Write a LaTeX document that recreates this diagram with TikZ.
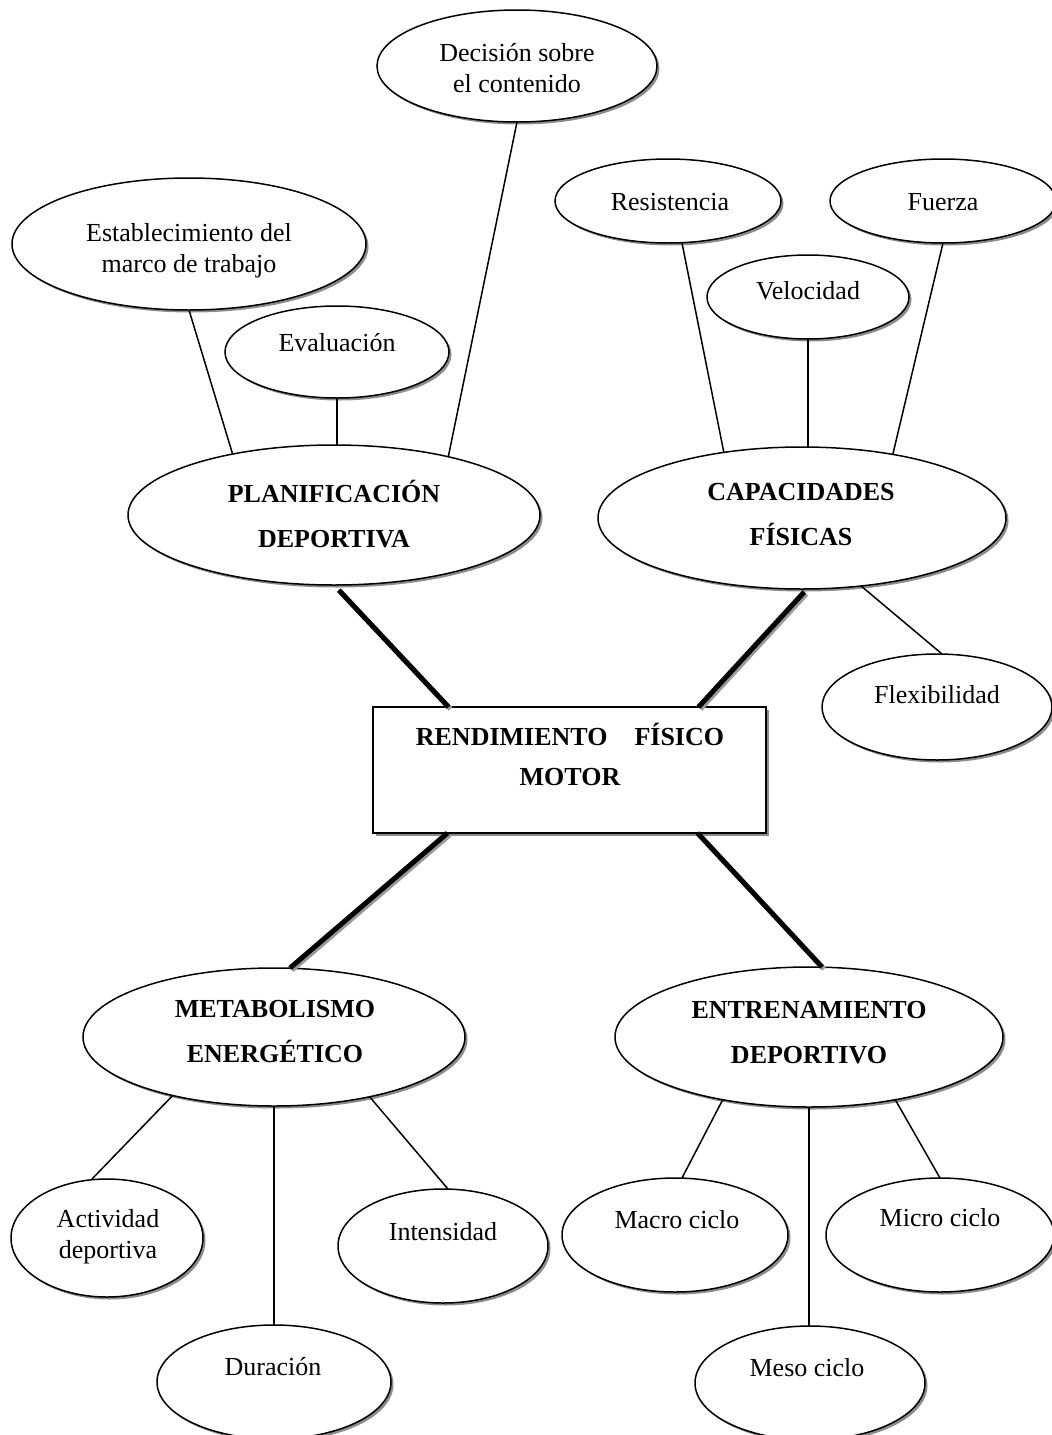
\documentclass[tikz,border=0pt]{standalone}
\usepackage{fontspec}
\setmainfont{Liberation Serif}
\usetikzlibrary{shapes.geometric,shadows,calc}
\tikzset{
  ell/.style={ellipse, draw, line width=1.5pt, fill=white, inner sep=0pt, outer sep=0pt,
    drop shadow={shadow xshift=2.5pt, shadow yshift=-2.5pt, fill=black!45, opacity=1}},
  boxnode/.style={rectangle, draw, line width=2pt, fill=white, inner sep=0pt, outer sep=0pt,
    drop shadow={shadow xshift=2.5pt, shadow yshift=-2.5pt, fill=black!45, opacity=1}},
  txt/.style={font=\fontsize{26}{31}\selectfont, align=center, inner sep=0pt},
  btxt/.style={font=\fontsize{26}{45}\selectfont\bfseries, align=center, inner sep=0pt},
  thinline/.style={line width=1.5pt},
  heavyline/.style={line width=5pt,
    preaction={draw=black!40, line width=5pt, transform canvas={shift={(2pt,-2pt)}}}},
}
\begin{document}
\begin{tikzpicture}[x=1pt,y=-1pt]
\useasboundingbox (0,0) rectangle (1052,1435);
% ellipses
\node[ell, minimum width=280, minimum height=112] (dec) at (517,66) {};
\node[ell, minimum width=354, minimum height=132] (est) at (189,244) {};
\node[ell, minimum width=224, minimum height=92] (eva) at (337,352) {};
\node[ell, minimum width=412, minimum height=140] (plan) at (334,515) {};
\node[ell, minimum width=226, minimum height=84] (res) at (668,201) {};
\node[ell, minimum width=226, minimum height=84] (fue) at (943,201) {};
\node[ell, minimum width=202, minimum height=84] (vel) at (808,297) {};
\node[ell, minimum width=408, minimum height=142] (cap) at (802,518) {};
\node[ell, minimum width=230, minimum height=106] (flex) at (937,707) {};
\node[boxnode, minimum width=393, minimum height=126] (rend) at (569.5,770) {};
\node[ell, minimum width=382, minimum height=138] (met) at (274,1037) {};
\node[ell, minimum width=388, minimum height=140] (ent) at (809,1037) {};
\node[ell, minimum width=192, minimum height=118] (act) at (107,1238) {};
\node[ell, minimum width=210, minimum height=114] (int) at (443,1246) {};
\node[ell, minimum width=234, minimum height=114] (dur) at (274,1382) {};
\node[ell, minimum width=226, minimum height=114] (mac) at (675,1235) {};
\node[ell, minimum width=228, minimum height=114] (mic) at (940,1235) {};
\node[ell, minimum width=230, minimum height=114] (mes) at (810,1383) {};
% texts
\node[txt] (dec-t) at (517,68) {Decisión sobre\\el contenido};
\node[txt] (est-t) at (189,251) {Establecimiento del\\marco de trabajo};
\node[txt] (eva-t) at (337,343) {Evaluación};
\node[txt] (res-t) at (670,202) {Resistencia};
\node[txt] (fue-t) at (943,202) {Fuerza};
\node[txt] (vel-t) at (808,291) {Velocidad};
\node[btxt] (plan-t) at (334,514) {PLANIFICACIÓN\\DEPORTIVA};
\node[btxt] (cap-t) at (801,515) {CAPACIDADES\\FÍSICAS};
\node[txt] (flex-t) at (937,695) {Flexibilidad};
\node[btxt, font=\fontsize{26}{40}\selectfont\bfseries] (rend-t) at (570,754) {RENDIMIENTO\hspace{27pt}FÍSICO\\MOTOR};
\node[btxt] (met-t) at (275,1032) {METABOLISMO\\ENERGÉTICO};
\node[btxt] (ent-t) at (809,1033) {ENTRENAMIENTO\\DEPORTIVO};
\node[txt] (act-t) at (108,1237) {Actividad\\deportiva};
\node[txt] (int-t) at (443,1232) {Intensidad};
\node[txt] (dur-t) at (273,1367) {Duración};
\node[txt] (mac-t) at (677,1220) {Macro ciclo};
\node[txt] (mic-t) at (940,1218) {Micro ciclo};
\node[txt] (mes-t) at (807,1368) {Meso ciclo};
% thin connectors
\draw[thinline] (est.south) -- (plan.149);
\draw[thinline] (eva.south) -- (eva.south |- plan.north);
\draw[thinline] (dec.south) -- (plan.27);
\draw[thinline] ([xshift=14pt]res.south) -- (cap.140);
\draw[thinline] (vel.south) -- (vel.south |- cap.north);
\draw[thinline] (fue.south) -- (cap.35);
\draw[thinline] (cap.-49) -- ([xshift=5pt]flex.north);
\draw[thinline] (met.210.5) -- ([xshift=-15pt]act.north);
\draw[thinline] (met.south) -- (met.south |- dur.north);
\draw[thinline] (met.-32) -- ([xshift=5pt]int.north);
\draw[thinline] (ent.216.4) -- ([xshift=7pt]mac.north);
\draw[thinline] (ent.south) -- (ent.south |- mes.north);
\draw[thinline] (ent.-36) -- (mic.north);
% heavy connectors
\draw[heavyline, shorten <=7pt] (plan.south) -- ([xshift=-121pt]rend.north);
\draw[heavyline, shorten <=4pt] (cap.-86) -- ([xshift=129pt]rend.north);
\draw[heavyline] ([xshift=-122pt]rend.south) -- ([xshift=16pt]met.north);
\draw[heavyline] ([xshift=128pt]rend.south) -- ([xshift=13pt]ent.north);
\end{tikzpicture}
\end{document}
